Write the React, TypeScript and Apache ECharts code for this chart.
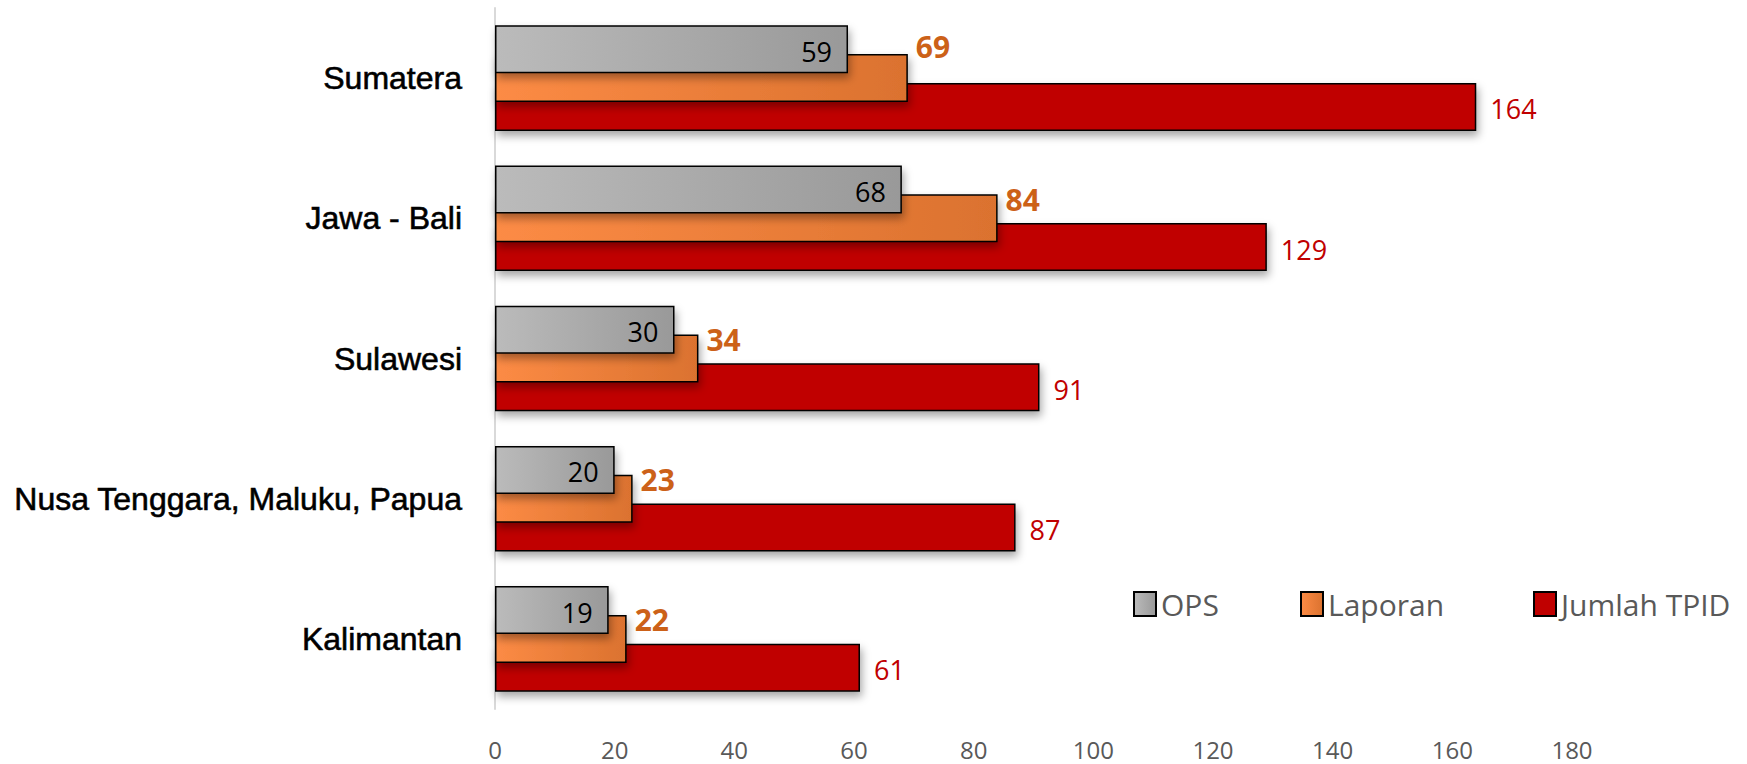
import React, { useEffect, useRef } from "react";
import * as echarts from "echarts";

const categories = ["Sumatera", "Jawa - Bali", "Sulawesi", "Nusa Tenggara, Maluku, Papua", "Kalimantan"];
const opsValues = [59, 68, 30, 20, 19];
const laporanValues = [69, 84, 34, 23, 22];
const tpidValues = [164, 129, 91, 87, 61];
const seriesNames = ["OPS", "Laporan", "Jumlah TPID"];
const xMin = 0;
const xMax = 180;
const xStep = 20;

export default function App() {
  const ref = useRef<HTMLDivElement>(null);
  useEffect(() => {
    if (!ref.current) return;
    const chart = echarts.init(ref.current, null, { renderer: "svg" });
    const valueFont = "Open Sans";
    const shadow = {
      shadowBlur: 8,
      shadowOffsetX: 2,
      shadowOffsetY: 5,
      shadowColor: "rgba(0,0,0,0.35)",
    };
    const legendBase = {
      top: 584,
      icon: "rect",
      itemWidth: 22,
      itemHeight: 24,
      selectedMode: false,
      textStyle: { fontSize: 30, color: "#595959", fontFamily: valueFont },
      itemStyle: { shadowBlur: 0, shadowOffsetX: 0, shadowOffsetY: 0, borderWidth: 2, borderColor: "#000" },
    };
    // the first label sits a little higher in the reference
    const laporanData = laporanValues.map((v, i) =>
      i === 0 ? { value: v, label: { offset: [0, -32] } } : v
    );
    chart.setOption({
      animation: false,
      backgroundColor: "#ffffff",
      grid: { left: 495, right: 175, top: 8, bottom: 55, containLabel: false },
      legend: [
        { ...legendBase, data: [seriesNames[0]], left: 1128 },
        { ...legendBase, data: [seriesNames[1]], left: 1295 },
        { ...legendBase, data: [seriesNames[2]], left: 1528 },
      ],
      xAxis: {
        type: "value",
        min: xMin,
        max: xMax,
        interval: xStep,
        axisLine: { show: false },
        axisTick: { show: false },
        splitLine: { show: false },
        axisLabel: { fontSize: 24, color: "#595959", fontFamily: valueFont, margin: 28 },
      },
      yAxis: {
        type: "category",
        inverse: true,
        data: categories,
        axisLine: { show: true, lineStyle: { color: "#d9d9d9", width: 2 } },
        axisTick: { show: false },
        axisLabel: {
          fontSize: 32,
          color: "#000",
          fontFamily: "Liberation Sans",
          margin: 33,
          textBorderColor: "#000",
          textBorderWidth: 0.6,
        },
      },
      series: [
        {
          name: seriesNames[0],
          type: "bar",
          z: 4,
          data: opsValues,
          barWidth: 48,
          barGap: "-40%",
          itemStyle: {
            color: new echarts.graphic.LinearGradient(0, 0, 1, 0, [
              { offset: 0, color: "#BBBBBB" },
              { offset: 1, color: "#999999" },
            ]),
            borderColor: "#000",
            borderWidth: 1.5,
            ...shadow,
          },
          label: {
            show: true,
            position: "insideRight",
            distance: 16,
            offset: [0, 2],
            color: "#000",
            fontSize: 27,
            fontFamily: valueFont,
          },
        },
        {
          name: seriesNames[1],
          type: "bar",
          z: 3,
          data: laporanData,
          barWidth: 48,
          barGap: "-40%",
          itemStyle: {
            color: new echarts.graphic.LinearGradient(0, 0, 1, 0, [
              { offset: 0, color: "#FC8B45" },
              { offset: 1, color: "#DB722F" },
            ]),
            borderColor: "#000",
            borderWidth: 1.5,
            ...shadow,
          },
          label: {
            show: true,
            position: "right",
            distance: 8,
            offset: [0, -19],
            color: "#CC6118",
            fontWeight: "bold",
            fontSize: 30,
            fontFamily: valueFont,
          },
        },
        {
          name: seriesNames[2],
          type: "bar",
          z: 2,
          data: tpidValues,
          barWidth: 48,
          barGap: "-40%",
          itemStyle: {
            color: "#C00000",
            borderColor: "#000",
            borderWidth: 1.5,
            ...shadow,
          },
          label: {
            show: true,
            position: "right",
            distance: 14,
            offset: [0, 2],
            color: "#C00000",
            fontSize: 27,
            fontFamily: valueFont,
          },
        },
      ],
    });
    return () => chart.dispose();
  }, []);
  return (
    <div
      ref={ref}
      style={{ position: "absolute", left: 0, top: 0, width: 1747, height: 764, background: "#fff" }}
    />
  );
}
